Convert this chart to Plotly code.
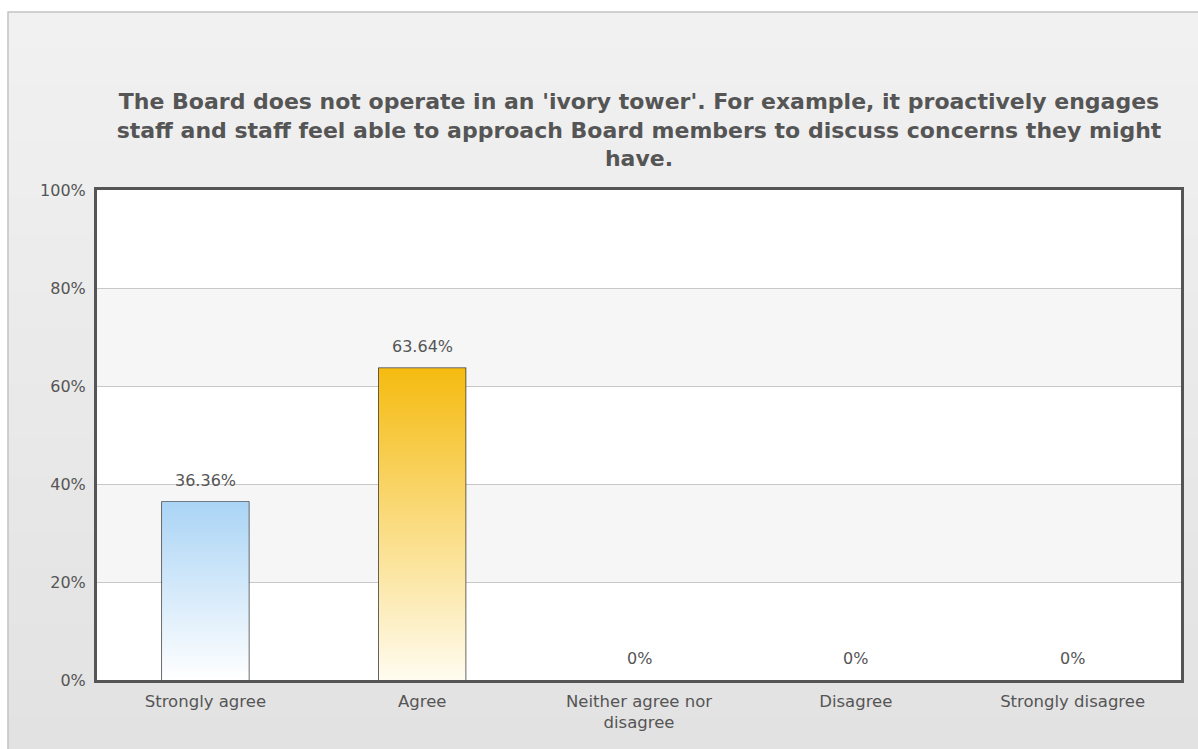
import plotly.graph_objects as go

categories = ["Strongly agree", "Agree", "Neither agree nor<br>disagree", "Disagree", "Strongly disagree"]
values = [36.36, 63.64, 0, 0, 0]
value_labels = ["36.36%", "63.64%", "0%", "0%", "0%"]
top_colors = ["#aad4f5", "#f5bb10", "#cccccc", "#cccccc", "#cccccc"]
bottom_colors = ["#ffffff", "#fffcf0", "#ffffff", "#ffffff", "#ffffff"]
y_ticks = [0, 20, 40, 60, 80, 100]
y_tick_labels = ["0%", "20%", "40%", "60%", "80%", "100%"]

BAR_W = 0.4
idx = list(range(len(categories)))
W, H = 1198, 749
ML, MR, MT, MB = 97, 17, 190, 69
PW, PH = W - ML - MR, H - MT - MB

fig = go.Figure()

# gradient fills of the bars
for i, v in enumerate(values):
    if v <= 0:
        continue
    fig.add_trace(go.Scatter(
        x=[i - BAR_W / 2, i + BAR_W / 2, i + BAR_W / 2, i - BAR_W / 2, i - BAR_W / 2],
        y=[0, 0, v, v, 0],
        mode="lines", line=dict(width=0), fill="toself",
        fillgradient=dict(type="vertical", start=0, stop=v,
                          colorscale=[[0, bottom_colors[i]], [1, top_colors[i]]]),
        hoverinfo="skip", showlegend=False,
    ))

fig.add_trace(go.Bar(
    x=idx, y=values, width=BAR_W,
    marker=dict(color="rgba(0,0,0,0)",
                line=dict(color="#2a2a2a", width=[1.4 if v > 0 else 0 for v in values])),
    showlegend=False, hoverinfo="skip",
))

annotations = [
    dict(x=i, y=v, xref="x", yref="y", text=value_labels[i], showarrow=False,
         yanchor="bottom", yshift=10,
         font=dict(family="DejaVu Sans", size=16, color="#555555"))
    for i, v in enumerate(values)
]

def px_to_paper_x(px):
    return (px - ML) / PW

def px_to_paper_y(py):
    return (H - MB - py) / PH

# background box with vertical gradient
shapes = []
box_top, box_bot = 12, H + 5
n_steps = 40
c_top, c_bot = 0xF1, 0xE2
step = (box_bot - box_top) / n_steps
for k in range(n_steps):
    y0 = box_top + step * k
    y1 = min(box_top + step * (k + 1) + 2, box_bot)
    c = round(c_top + (c_bot - c_top) * k / (n_steps - 1))
    shapes.append(dict(type="rect", xref="paper", yref="paper",
                       x0=px_to_paper_x(8), x1=px_to_paper_x(W + 5),
                       y0=px_to_paper_y(y1), y1=px_to_paper_y(y0),
                       fillcolor=f"rgb({c},{c},{c})", line=dict(width=0), layer="below"))
shapes.append(dict(type="rect", xref="paper", yref="paper",
                   x0=px_to_paper_x(8), x1=px_to_paper_x(W + 5),
                   y0=px_to_paper_y(box_bot), y1=px_to_paper_y(box_top),
                   fillcolor="rgba(0,0,0,0)", line=dict(color="#c4c4c4", width=1.5), layer="below"))
shapes.append(dict(type="rect", xref="paper", yref="paper", x0=0, x1=1, y0=0, y1=1,
                   fillcolor="white", line=dict(width=0), layer="below"))
for lo, hi in [(20, 40), (60, 80)]:
    shapes.append(dict(type="rect", xref="paper", yref="y", x0=0, x1=1, y0=lo, y1=hi,
                       fillcolor="#f6f6f6", line=dict(width=0), layer="below"))

fig.update_layout(
    width=W, height=H,
    margin=dict(l=ML, r=MR, t=MT, b=MB),
    paper_bgcolor="white", plot_bgcolor="white",
    title=dict(
        text="The Board does not operate in an 'ivory tower'. For example, it proactively engages<br>"
             "staff and staff feel able to approach Board members to discuss concerns they might<br>have.",
        x=0.5, xref="paper", xanchor="center", y=1 - 109 / H, yanchor="top",
        font=dict(family="DejaVu Sans", size=22, color="#555555", weight="bold"),
    ),
    shapes=shapes,
    annotations=annotations,
    font=dict(family="DejaVu Sans", size=16, color="#555555"),
)
fig.update_xaxes(
    range=[-0.5, len(categories) - 0.5], tickvals=idx, ticktext=categories,
    showline=True, mirror=True, linecolor="#555555", linewidth=3,
    showgrid=False, zeroline=False, ticks="", automargin=False, ticklabelstandoff=4,
    tickfont=dict(family="DejaVu Sans", size=16.5, color="#555555"),
)
fig.update_yaxes(
    range=[0, 100], tickvals=y_ticks, ticktext=y_tick_labels,
    showline=True, mirror=True, linecolor="#555555", linewidth=3,
    showgrid=True, gridcolor="#c8c8c8", gridwidth=1, zeroline=False,
    ticks="", automargin=False, ticklabelstandoff=5,
    tickfont=dict(family="DejaVu Sans", size=16, color="#555555"),
)

fig.write_html("out.html", config={"displayModeBar": False},
               post_script="document.body.style.margin='0';")
